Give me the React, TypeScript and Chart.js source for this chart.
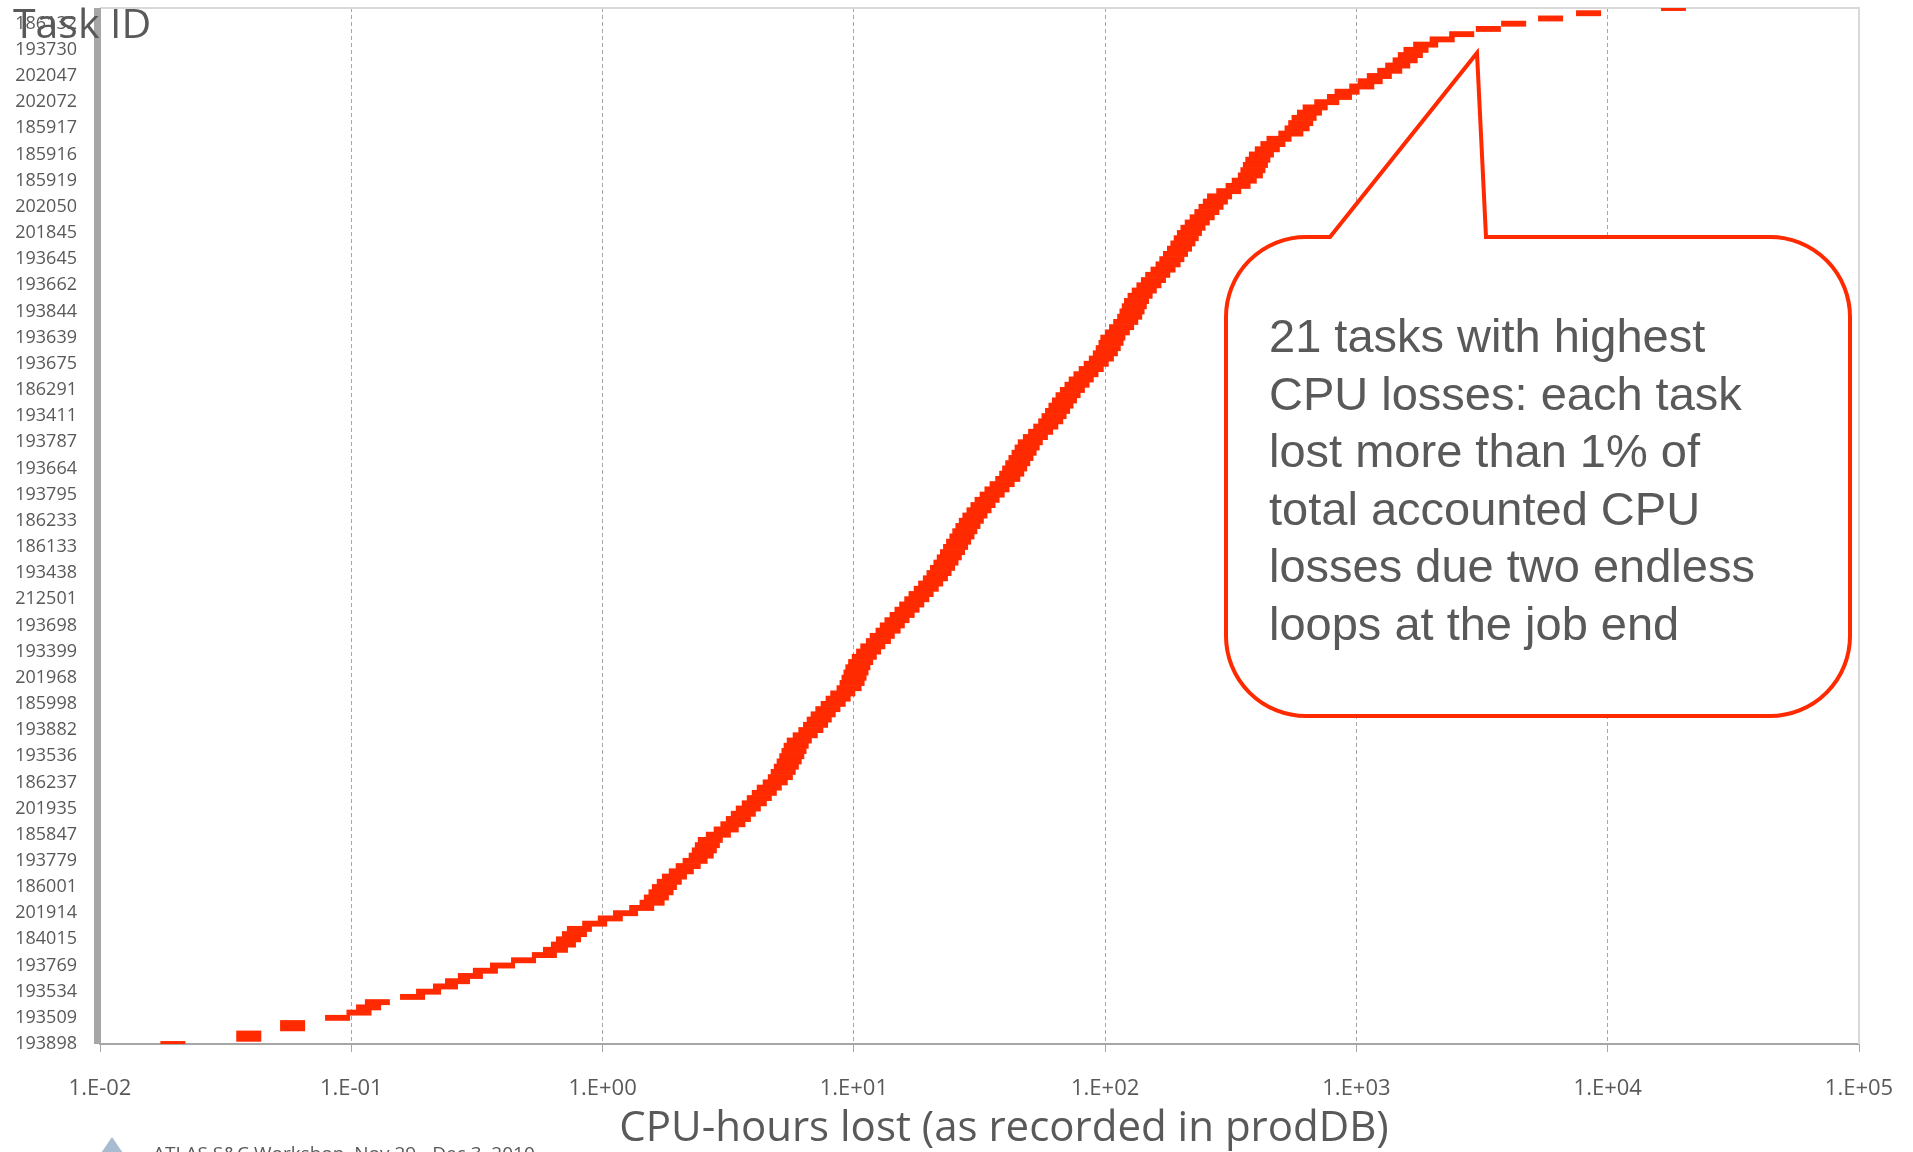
import React, { useEffect, useRef } from 'react';
import { Chart, registerables } from 'chart.js';

Chart.register(...registerables);

// Task IDs shown on the vertical axis, listed top to bottom as in the picture
const taskIds = [
  '186132', '193730', '202047', '202072', '185917', '185916', '185919', '202050',
  '201845', '193645', '193662', '193844', '193639', '193675', '186291', '193411',
  '193787', '193664', '193795', '186233', '186133', '193438', '212501', '193698',
  '193399', '201968', '185998', '193882', '193536', '186237', '201935', '185847',
  '193779', '186001', '201914', '184015', '193769', '193534', '193509', '193898',
];

// CPU-hours lost per task (sorted, bottom of the axis first)
const cpuHoursLost = [
  0.0218, 0.0437, 0.0437, 0.0653, 0.0653, 0.0986, 0.120, 0.131, 0.142, 0.196,
  0.227, 0.265, 0.296, 0.333, 0.382, 0.447, 0.542, 0.656, 0.726, 0.781,
  0.818, 0.864, 0.904, 1.04, 1.20, 1.38, 1.60, 1.76, 1.83, 1.91,
  1.97, 2.06, 2.16, 2.30, 2.45, 2.61, 2.76, 2.84, 2.92, 3.00,
  3.23, 3.47, 3.69, 3.88, 4.06, 4.25, 4.49, 4.70, 4.92, 5.15,
  5.44, 5.70, 5.85, 6.02, 6.18, 6.33, 6.46, 6.59, 6.78, 7.16,
  7.54, 7.87, 8.14, 8.44, 8.81, 9.25, 9.68, 10.1, 10.7, 11.0,
  11.2, 11.4, 11.6, 11.9, 12.3, 12.8, 13.3, 14.0, 14.5, 15.3,
  15.9, 16.6, 17.4, 18.2, 19.0, 19.9, 20.7, 21.7, 22.6, 23.6,
  24.4, 25.2, 26.0, 26.8, 27.6, 28.4, 29.2, 30.1, 30.9, 31.8,
  32.8, 33.9, 35.2, 36.5, 37.9, 39.7, 41.5, 43.5, 45.8, 47.5,
  48.8, 50.2, 51.7, 53.2, 54.7, 56.3, 59.0, 61.9, 64.9, 67.9,
  70.0, 72.3, 74.6, 77.0, 79.6, 82.8, 86.4, 89.8, 93.8, 98.4,
  103, 108, 112, 115, 118, 120, 125, 130, 135, 140,
  143, 146, 149, 154, 160, 167, 174, 181, 190, 199,
  206, 213, 221, 228, 235, 242, 250, 260, 272, 284,
  295, 307, 319, 347, 378, 400, 423, 433, 443, 453,
  468, 494, 520, 550, 613, 649, 671, 692, 727, 766,
  852, 957, 1026, 1174, 1268, 1379, 1517, 1632, 1747, 1832,
  1930, 2109, 2453, 2933, 3745, 4721, 6623, 9379, 20420,
];

const xTickValues = [0.01, 0.1, 1, 10, 100, 1000, 10000, 100000];
const xTickLabels = ['1.E-02', '1.E-01', '1.E+00', '1.E+01', '1.E+02', '1.E+03', '1.E+04', '1.E+05'];

const xAxisTitle = 'CPU-hours lost (as recorded in prodDB)';
const yAxisTitle = 'Task ID';
const calloutLines = [
  '21 tasks with highest',
  'CPU losses: each task',
  'lost more than 1% of',
  'total accounted CPU',
  'losses due two endless',
  'loops at the job end',
];
const footnote = 'ATLAS S&C Workshop, Nov 29 - Dec 3, 2010';

const LABEL_EVERY = 5;
const BAND_RATIO = 1.25;
const RED = '#ff2a00';
const GRAY_TEXT = '#595959';

const decorPlugin = {
  id: 'decor',
  beforeDatasetsDraw(chart: any) {
    const { ctx, chartArea: a } = chart;
    ctx.save();
    ctx.strokeStyle = '#d9d9d9';
    ctx.lineWidth = 2;
    ctx.setLineDash([]);
    ctx.beginPath();
    ctx.moveTo(a.left, a.top);
    ctx.lineTo(a.right, a.top);
    ctx.lineTo(a.right, a.bottom);
    ctx.stroke();
    ctx.fillStyle = '#a6a6a6';
    ctx.fillRect(a.left - 6, a.top, 7, a.bottom - a.top);
    ctx.restore();
  },
  afterDraw(chart: any) {
    const { ctx } = chart;
    ctx.save();
    // callout box
    const L = 1226, T = 237, R = 1850, B = 716, r = 80;
    ctx.beginPath();
    ctx.moveTo(1330, T);
    ctx.lineTo(1477, 53);
    ctx.lineTo(1486, T);
    ctx.lineTo(R - r, T);
    ctx.arcTo(R, T, R, T + r, r);
    ctx.lineTo(R, B - r);
    ctx.arcTo(R, B, R - r, B, r);
    ctx.lineTo(L + r, B);
    ctx.arcTo(L, B, L, B - r, r);
    ctx.lineTo(L, T + r);
    ctx.arcTo(L, T, L + r, T, r);
    ctx.closePath();
    ctx.fillStyle = '#ffffff';
    ctx.fill();
    ctx.lineWidth = 4;
    ctx.lineJoin = 'miter';
    ctx.strokeStyle = RED;
    ctx.stroke();

    ctx.fillStyle = GRAY_TEXT;
    ctx.font = '47px "Liberation Sans", Arial, sans-serif';
    ctx.textAlign = 'left';
    ctx.textBaseline = 'alphabetic';
    calloutLines.forEach((line, i) => {
      ctx.fillText(line, 1269, 352 + i * 57.6);
    });

    // y axis title
    ctx.font = '41px "Open Sans", sans-serif';
    ctx.fillStyle = GRAY_TEXT;
    ctx.fillText(yAxisTitle, 13, 38);

    // x axis title
    ctx.font = '42px "Open Sans", sans-serif';
    ctx.textAlign = 'center';
    ctx.fillText(xAxisTitle, 1004, 1141);

    // footnote (cut at the bottom edge)
    ctx.fillStyle = '#a8bbd0';
    ctx.beginPath();
    ctx.moveTo(112, 1137);
    ctx.lineTo(125, 1156);
    ctx.lineTo(99, 1156);
    ctx.closePath();
    ctx.fill();
    ctx.fillStyle = GRAY_TEXT;
    ctx.font = '19px "Open Sans", sans-serif';
    ctx.textAlign = 'left';
    ctx.fillText(footnote, 153, 1160);
    ctx.restore();
  },
};

export default function App() {
  const ref = useRef<HTMLCanvasElement>(null);

  useEffect(() => {
    const categories = cpuHoursLost.map((_, i) =>
      i % LABEL_EVERY === 0 ? taskIds[taskIds.length - 1 - i / LABEL_EVERY] : ''
    );
    const chart = new Chart(ref.current as HTMLCanvasElement, {
      type: 'bar',
      data: {
        labels: categories,
        datasets: [
          {
            data: cpuHoursLost.map((v) => [v / BAND_RATIO, v]) as any,
            backgroundColor: RED,
            borderWidth: 0,
            barPercentage: 1,
            categoryPercentage: 1,
          },
        ],
      },
      options: {
        indexAxis: 'y',
        responsive: true,
        maintainAspectRatio: false,
        animation: false,
        layout: { padding: { top: 8, right: 54, left: 0, bottom: 0 } },
        plugins: {
          legend: { display: false },
          tooltip: { enabled: false },
          title: { display: false },
        },
        scales: {
          x: {
            type: 'logarithmic',
            position: 'bottom',
            min: 0.01,
            max: 100000,
            afterBuildTicks: (s: any) => {
              s.ticks = xTickValues.map((v) => ({ value: v }));
            },
            afterFit: (s: any) => {
              s.height = 108;
              s.paddingLeft = 0;
              s.paddingRight = 0;
              s.paddingTop = 0;
              s.paddingBottom = 0;
            },
            ticks: {
              autoSkip: false,
              maxRotation: 0,
              color: GRAY_TEXT,
              font: { family: '"Open Sans", sans-serif', size: 22 },
              padding: 24,
              callback: (_v: any, i: number) => xTickLabels[i],
            },
            grid: {
              color: '#a6a6a6',
              lineWidth: 1,
              drawTicks: true,
              tickLength: 8,
              tickColor: '#a6a6a6',
              tickWidth: 1,
            },
            border: { display: true, color: '#a6a6a6', width: 2, dash: [4, 3] },
          },
          y: {
            type: 'category',
            reverse: true,
            offset: false,
            afterFit: (s: any) => {
              s.width = 100;
              s.paddingLeft = 0;
              s.paddingRight = 0;
              s.paddingTop = 0;
              s.paddingBottom = 0;
            },
            ticks: {
              autoSkip: false,
              color: GRAY_TEXT,
              font: { family: '"Open Sans", sans-serif', size: 18 },
              padding: 23,
              callback: (_v: any, i: number) => (categories[i] ? categories[i] : null),
            },
            grid: { display: false, drawTicks: false },
            border: { display: false },
          },
        },
      } as any,
      plugins: [decorPlugin],
    });
    return () => chart.destroy();
  }, []);

  return (
    <div style={{ position: 'fixed', left: 0, top: 0, width: '100vw', height: '100vh', background: '#fff' }}>
      <canvas ref={ref} />
    </div>
  );
}
